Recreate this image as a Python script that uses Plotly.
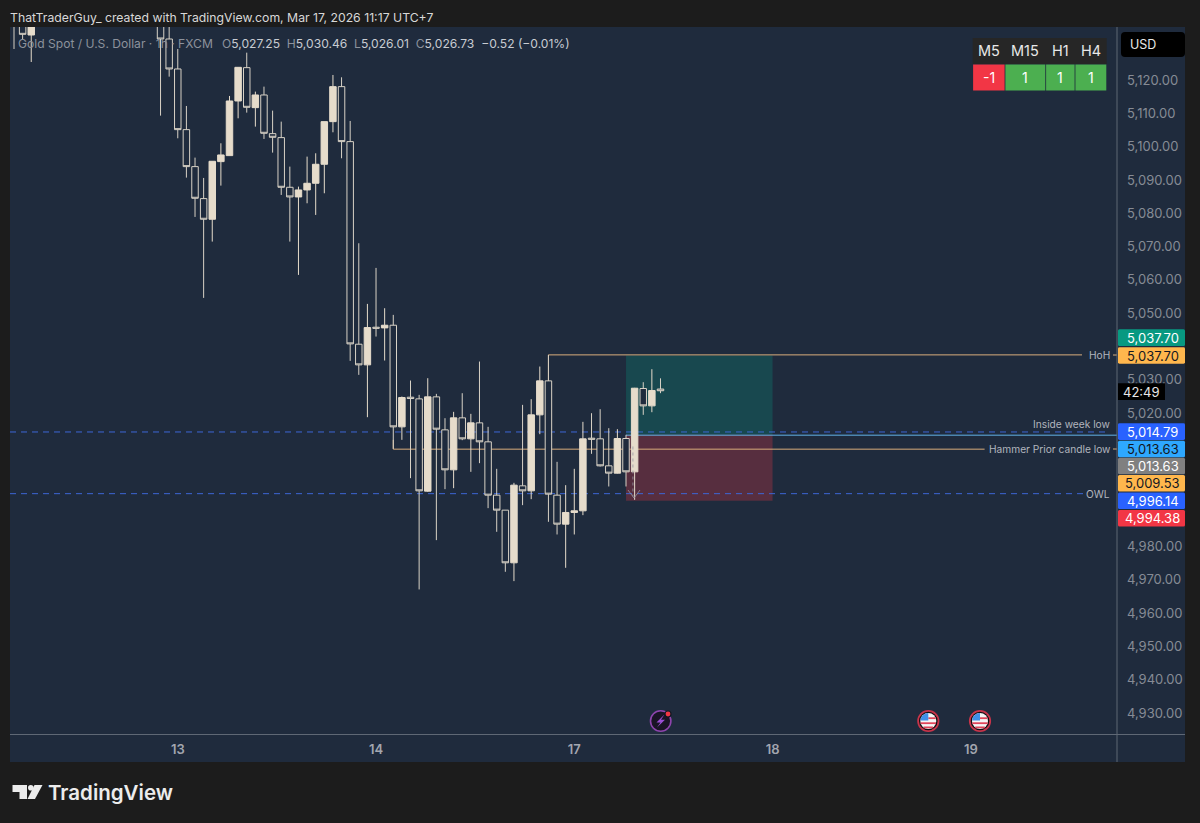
import math
import plotly.graph_objects as go

# ---------- data ----------
bar_index = [0, 1, 2] + list(range(17, 76))
opens = [5145, 5137, 5133.5,
         5145, 5132.3, 5123.3, 5105.1, 5094.0, 5084.4, 5078.2, 5095.5, 5097.3, 5113.7,
         5123.7, 5111.7, 5115.5, 5103.9, 5102.7, 5087.8, 5084.9, 5087.0, 5089.0, 5094.7,
         5107.5, 5118.0, 5101.5, 5040.7, 5034.5, 5045.8, 5045.6, 5046.4, 5015.9, 5024.8,
         5024.3, 4996.6, 5024.9, 5015.0, 5003.0, 5018.6, 5012.3, 5017.1, 5011.4, 4995.4,
         4990.9, 4975.1, 4998.2, 4996.7, 5019.5, 5029.7, 4995.4, 4986.7, 4990.2, 4990.7,
         5012.5, 5012.3, 5004.2, 5002.0, 5012.4, 5002.4, 5027.4, 5022.2, 5027.25]
highs = [5150, 5139, 5139,
         5150, 5145, 5129.3, 5112.2, 5096.7, 5090.6, 5095.6, 5101.0, 5115.2, 5123.8,
         5128.2, 5116.5, 5118.0, 5110.8, 5107.5, 5094.0, 5088.0, 5097.0, 5098.0, 5107.5,
         5121.5, 5120.8, 5107.7, 5071.0, 5052.8, 5063.6, 5051.5, 5049.5, 5025.0, 5029.8,
         5025.5, 5030.5, 5025.8, 5018.5, 5020.4, 5026.0, 5019.8, 5035.5, 5015.9, 5003.3,
         4990.9, 4999.1, 5022.5, 5024.2, 5034.0, 5037.5, 5005.4, 4998.4, 5003.3, 5017.4,
         5020.0, 5021.2, 5015.5, 5015.2, 5013.5, 5027.6, 5029.3, 5033.2, 5030.46]
lows = [5129.3, 5132.3, 5125.4,
        5109.3, 5121.0, 5102.5, 5090.7, 5078.9, 5054.6, 5071.5, 5088.3, 5097.3, 5108.5,
        5110.2, 5106.0, 5102.3, 5098.2, 5085.5, 5071.5, 5061.5, 5083.0, 5079.5, 5086.0,
        5104.3, 5096.5, 5035.7, 5031.5, 5018.8, 5043.0, 5035.8, 5009.3, 5012.0, 5000.5,
        4967.1, 4996.4, 4981.9, 4997.2, 4997.5, 5011.9, 5002.4, 5005.0, 4991.5, 4984.4,
        4972.4, 4969.6, 4992.4, 4994.2, 5013.7, 4987.4, 4983.6, 4973.6, 4983.6, 4989.4,
        5007.8, 5004.0, 4998.0, 5001.9, 4998.0, 4994.0, 5019.5, 5020.3, 5026.01]
closes = [5140, 5133.7, 5138,
          5132.3, 5123.3, 5105.1, 5094.0, 5084.5, 5078.2, 5095.6, 5097.5, 5113.7, 5123.8,
          5111.8, 5115.5, 5104.0, 5102.8, 5087.8, 5084.9, 5087.0, 5089.0, 5094.7, 5107.5,
          5118.0, 5101.5, 5040.8, 5034.5, 5045.7, 5045.5, 5046.4, 5015.9, 5024.7, 5024.4,
          4996.7, 5024.9, 5015.2, 5003.0, 5018.6, 5012.3, 5017.1, 5011.4, 4995.4, 4990.9,
          4975.1, 4998.4, 4996.7, 5019.5, 5029.7, 4995.7, 4986.7, 4990.2, 4990.7, 5012.3,
          5012.2, 5004.2, 5002.0, 5012.4, 5002.4, 5027.5, 5022.2, 5026.8, 5026.73]

day_ticks = [19, 42, 65, 88, 111]
day_labels = ["13", "14", "17", "18", "19"]
price_ticks = [5120, 5110, 5100, 5090, 5080, 5070, 5060, 5050, 5030, 5020,
               4980, 4970, 4960, 4950, 4940, 4930]

hoh_level = 5037.5
hammer_level = 5009.2
inside_week_low = 5014.36
owl_level = 4995.85
entry_level = 5013.4
box_top = 5037.3
box_mid = 5013.5
box_bottom = 4993.75

axis_labels = ["5,037.70", "5,037.70", "5,014.79", "5,013.63", "5,013.63", "5,009.53", "4,996.14", "4,994.38"]
axis_label_colors = ["#089981", "#ffb74d", "#2962ff", "#2ea8ff", "#808080", "#ffb74d", "#2962ff", "#f23645"]
axis_label_text = ["#ffffff", "#131722", "#ffffff", "#131722", "#ffffff", "#131722", "#ffffff", "#ffffff"]
axis_label_centers = [337.6, 355.5, 431.6, 449, 466, 483.3, 500.8, 518.3]

tf_names = ["M5", "M15", "H1", "H4"]
tf_values = ["-1", "1", "1", "1"]
tf_colors = ["#f23645", "#4caf50", "#4caf50", "#4caf50"]
tf_edges = [972.7, 1005, 1045.7, 1075, 1106.7]

# ---------- geometry helpers ----------
L, R, T, B = 10, 1117, 27, 734
PANEL = "#1f2b3d"
px = lambda x: (x - L) / (R - L)
py = lambda y: (B - y) / (B - T)

shapes = []
annotations = []


def rect(x0, y0, x1, y1, fill, layer="above", line=None, lw=0):
    shapes.append(dict(type="rect", xref="paper", yref="paper", x0=px(x0), x1=px(x1),
                       y0=py(y1), y1=py(y0), fillcolor=fill, layer=layer,
                       line=dict(color=line or fill, width=lw)))


def round_rect(x0, y0, x1, y1, r, fill):
    p = lambda x, y: f"{px(x):.5f},{py(y):.5f}"
    path = (f"M {p(x0 + r, y0)} L {p(x1 - r, y0)} Q {p(x1, y0)} {p(x1, y0 + r)} "
            f"L {p(x1, y1 - r)} Q {p(x1, y1)} {p(x1 - r, y1)} L {p(x0 + r, y1)} "
            f"Q {p(x0, y1)} {p(x0, y1 - r)} L {p(x0, y0 + r)} Q {p(x0, y0)} {p(x0 + r, y0)} Z")
    shapes.append(dict(type="path", xref="paper", yref="paper", path=path, fillcolor=fill,
                       layer="above", line=dict(color=fill, width=0)))


def circle(cx, cy, r, fill, line=None, lw=0):
    shapes.append(dict(type="circle", xref="paper", yref="paper", x0=px(cx - r), x1=px(cx + r),
                       y0=py(cy + r), y1=py(cy - r), fillcolor=fill, layer="above",
                       line=dict(color=line or fill, width=lw)))


def pline(x0, y0, x1, y1, color, lw=1, layer="above", dash="solid"):
    shapes.append(dict(type="line", xref="paper", yref="paper", x0=px(x0), x1=px(x1),
                       y0=py(y0), y1=py(y1), layer=layer, line=dict(color=color, width=lw, dash=dash)))


def poly(points, fill):
    path = "M " + " L ".join(f"{px(x):.5f},{py(y):.5f}" for x, y in points) + " Z"
    shapes.append(dict(type="path", xref="paper", yref="paper", path=path, fillcolor=fill,
                       layer="above", line=dict(color=fill, width=0)))


def text(x, y, s, size=13, color="#d1d4dc", anchor="left", weight=400, family="Inter"):
    annotations.append(dict(xref="paper", yref="paper", x=px(x), y=py(y), text=s, showarrow=False,
                            xanchor=anchor, yanchor="middle", borderpad=0, borderwidth=0,
                            font=dict(size=size, color=color, family=family, weight=weight)))


def hline(x0, x1, price, color, lw=1, dash="solid"):
    shapes.append(dict(type="line", xref="x", yref="y", x0=x0, x1=x1, y0=price, y1=price,
                       layer="below", line=dict(color=color, width=lw, dash=dash)))


# panel background
rect(10, 27, 1185, 762, PANEL, layer="below")

# position tool
shapes.append(dict(type="rect", xref="x", yref="y", x0=71, x1=88, y0=box_mid, y1=box_top,
                   fillcolor="rgba(8,153,129,0.27)", layer="below", line=dict(width=0)))
shapes.append(dict(type="rect", xref="x", yref="y", x0=71, x1=88, y0=box_bottom, y1=box_mid,
                   fillcolor="rgba(242,54,69,0.27)", layer="below", line=dict(width=0)))

ORANGE = "#d9ad7c"
DASH_BLUE = "#3d66d6"
hline(62, 123.9, hoh_level, ORANGE)
hline(44, 112.6, hammer_level, ORANGE)
hline(-0.46, 127.1, inside_week_low, DASH_BLUE, dash="6px,5px")
hline(-0.46, 124.2, owl_level, DASH_BLUE, dash="6px,5px")
hline(71, 127.96, entry_level, "#62b2e6")
# connecting stubs of the labelled lines
shapes.append(dict(type="line", xref="x", yref="y", x0=62, x1=62, y0=hoh_level, y1=5029.7,
                   layer="below", line=dict(color=ORANGE, width=1)))
shapes.append(dict(type="line", xref="x", yref="y", x0=44, x1=44, y0=5012.0, y1=hammer_level,
                   layer="below", line=dict(color=ORANGE, width=1)))
pline(1113, 355, 1117, 355, ORANGE)
pline(1113, 449, 1117, 449, ORANGE)

# trade arrow
shapes.append(dict(type="line", xref="x", yref="y", x0=71.8, x1=71.8, y0=5010, y1=4995,
                   layer="above", line=dict(color="rgba(150,150,160,0.8)", width=1, dash="3px,3px")))
pline(628, 490, 634, 498, "rgba(150,150,160,0.8)")
pline(640, 490, 634, 498, "rgba(150,150,160,0.8)")

# axis lines
pline(1117, 27, 1117, 762, "#5f6875", 1)
pline(10, 734.5, 1185, 734.5, "#5f6875", 1)

# line labels
text(1110, 355, "HoH", 10.2, "#b2b5be", "right")
text(1110, 423.5, "Inside week low", 10.2, "#b2b5be", "right")
text(1110, 449, "Hammer Prior candle low", 10.2, "#b2b5be", "right")
text(1110, 493.5, "OWL", 10.2, "#b2b5be", "right")

# price axis tags
for lab, fill, tc, cy in zip(axis_labels, axis_label_colors, axis_label_text, axis_label_centers):
    round_rect(1118, cy - 8.3, 1185, cy + 8.3, 1.5, fill)
    text(1152.5, cy, lab, 13, tc, "center")
rect(1118, 383.3, 1165, 400, "#000000")
text(1141.5, 391.8, "42:49", 13, "#e8e8e8", "center")

# USD box
round_rect(1121, 32, 1185, 57, 4, "#000000")
text(1130, 44, "USD", 12.5, "#e8e8e8")

# timeframe table
rect(tf_edges[0], 38, tf_edges[-1], 64, "#262626")
for i, (n, v, c) in enumerate(zip(tf_names, tf_values, tf_colors)):
    x0, x1 = tf_edges[i], tf_edges[i + 1]
    rect(x0 + 0.4, 64.5, x1 - 0.4, 90.5, c)
    text((x0 + x1) / 2, 51, n, 14.5, "#e8e8e8", "center")
    text((x0 + x1) / 2, 77.5, v, 14, "#ffffff", "center")

# top texts
text(10, 18, "ThatTraderGuy_ created with TradingView.com, Mar 17, 2026 11:17 UTC+7", 12.25, "#d8d8d8")
G = "#8c929c"
V = "#c8ccd2"
text(18, 43.5, "Gold Spot / U.S. Dollar · 1h · FXCM", 12.1, G)
legend = (f'<span style="color:{G}">O</span><span style="color:{V}">5,027.25</span>  '
          f'<span style="color:{G}">H</span><span style="color:{V}">5,030.46</span>  '
          f'<span style="color:{G}">L</span><span style="color:{V}">5,026.01</span>  '
          f'<span style="color:{G}">C</span><span style="color:{V}">5,026.73</span>  '
          f'<span style="color:{V}">−0.52 (−0.01%)</span>')
text(222, 43.5, legend, 12.1, V)

# event icons
circle(660.7, 721, 10.2, "#1a1426", "#8e44ad", 1.6)
poly([(664.5, 714.5), (656.5, 722.5), (660.5, 722.5), (657, 727.5), (665, 719.8), (661, 719.8)], "#9c4fd6")
circle(668, 714, 3.6, "#131722")
circle(668, 714, 2.4, "#f23645")
for cx in (928.3, 980):
    circle(cx, 721, 10.2, "#101014", "#c8344a", 1.8)
    circle(cx, 721, 8, "#f5f5f5")
    for dy in (2.2, 6.4):
        half = math.sqrt(64 - dy * dy)
        pline(cx - half, 721 + dy, cx + half, 721 + dy, "#e0455a", 1.8)
    pline(cx, 718.2, cx + 7.4, 718.2, "#e0455a", 1.8)
    poly([(cx - 6, 715.7), (cx - 3, 713.4), (cx, 713), (cx, 720.5), (cx - 7.8, 720.5), (cx - 7.4, 718)], "#3f8fe8")

# footer logo
poly([(12.5, 785), (27, 785), (27, 799), (19.5, 799), (19.5, 792), (12.5, 792)], "#ececec")
circle(30.8, 787.8, 2.8, "#ececec")
poly([(34.5, 785), (42.5, 785), (35, 799), (27.5, 799)], "#ececec")
text(48, 792.5, "TradingView", 20.5, "#ececec", weight=600)

fig = go.Figure(go.Candlestick(
    x=bar_index, open=opens, high=highs, low=lows, close=closes,
    increasing=dict(fillcolor="#e6dccb", line=dict(color="#e6dccb", width=1)),
    decreasing=dict(fillcolor=PANEL, line=dict(color="#d8d2c6", width=1)),
    whiskerwidth=0, hoverinfo="skip", showlegend=False,
))

fig.update_layout(
    width=1200, height=823,
    margin=dict(l=L, r=1200 - R, t=T, b=823 - B, pad=0),
    paper_bgcolor="#1c1c1c", plot_bgcolor="rgba(0,0,0,0)",
    boxgap=0.25, boxgroupgap=0,
    shapes=shapes, annotations=annotations, showlegend=False,
    xaxis=dict(range=[-0.464, 127.96], rangeslider=dict(visible=False), showgrid=False, zeroline=False,
               showline=False, tickmode="array", tickvals=day_ticks, ticktext=day_labels, ticks="",
               ticklabelstandoff=6, tickfont=dict(family="Inter", size=13, color="#a3a6af", weight=600)),
    yaxis=dict(range=[4923.72, 5135.9], side="right", showgrid=False, zeroline=False, showline=False,
               tickmode="array", tickvals=price_ticks, tickformat=",.2f", ticks="",
               ticklabelstandoff=9, tickfont=dict(family="Inter", size=13, color="#868b95")),
    font=dict(family="Inter"),
)

fig.write_html("out.html", config=dict(displayModeBar=False),
               post_script="document.body.style.margin='0';document.body.style.overflow='hidden';")
